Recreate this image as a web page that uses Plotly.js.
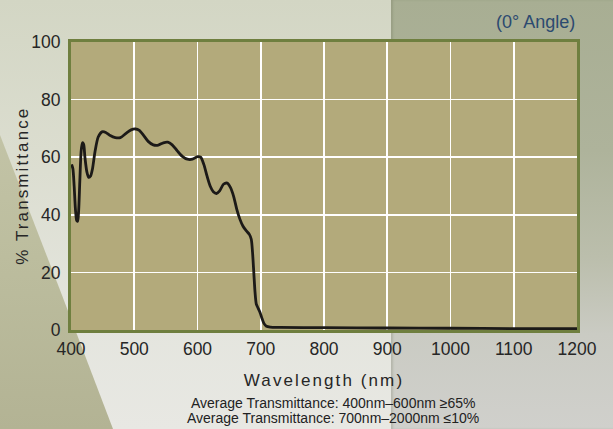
<!DOCTYPE html>
<html>
<head>
<meta charset="utf-8">
<script src="https://cdn.plot.ly/plotly-3.0.1.min.js"></script>
<style>
  html, body { margin: 0; padding: 0; }
  #wrap {
    position: relative; width: 613px; height: 429px; overflow: hidden;
    background: linear-gradient(180deg, #d3d6c4 0%, #dbddcf 35%, #e4e5de 75%, #e8e8e3 100%);
  }
  #wedge {
    position: absolute; left: 0; top: 0; width: 613px; height: 429px;
    clip-path: polygon(0 135px, 60px 290px, 113px 429px, 0 429px);
    background: linear-gradient(180deg, #c9caaf 0%, #bcbd9e 60%, #b3b394 100%);
  }
  #right {
    position: absolute; left: 391px; top: 0; width: 222px; height: 429px;
    background: linear-gradient(180deg, #a8ae93 0%, #aeb39b 35%, #bbbeac 60%, #cacbc3 78%, #d0d0cc 100%);
    box-shadow: inset 2px 0 2px rgba(90,95,70,0.2);
  }
  #chart { position: absolute; left: 0; top: 0; }
  .xtitle { letter-spacing: 2.1px; }
  g.annotation[data-index="0"] text { letter-spacing: 2.1px; }
</style>
</head>
<body>
<div id="wrap">
  <div id="wedge"></div>
  <div id="right"></div>
  <div id="chart"></div>
</div>
<script>
// Transmittance curve, 0° angle of incidence
const wavelength = [401, 403, 405, 407, 409, 410.5, 412, 414, 416, 418, 420, 422, 425, 428, 431, 434, 438, 443, 449, 455,
  462, 470, 478, 487, 495, 502, 508, 515, 522, 530, 538, 546, 553, 560, 568, 576, 584, 592, 600, 605,
  610, 615, 620, 625, 630, 635, 641, 647, 652, 657, 662, 667, 672, 677, 682, 685, 687, 689, 691, 693,
  696, 699, 702, 705, 709, 715, 730, 800, 900, 1000, 1100, 1200];
const transmittance = [57.5, 56, 50, 42, 38, 37.8, 41, 52, 62, 65, 64.5, 60, 55, 53, 53.5, 56, 62, 67, 68.8, 68.6,
  67.5, 66.8, 66.8, 68.3, 69.5, 69.8, 69.3, 67.5, 65.5, 64.3, 64.2, 65, 65.2, 64.3, 62.2, 60.3, 59.3, 59.3, 60.2, 60.0,
  57.5, 53.5, 50, 48, 47.4, 48.3, 50.6, 51, 49.5, 46.5, 42, 38.5, 36, 34.5, 33.2, 31.5, 27, 20, 13, 9,
  7.5, 6, 4, 2.3, 1.3, 1.0, 0.9, 0.8, 0.7, 0.6, 0.5, 0.5];

const xTicks = [400, 500, 600, 700, 800, 900, 1000, 1100, 1200];
const yTicks = [0, 20, 40, 60, 80, 100];
const yTitle = '% Transmittance';
const xTitle = 'Wavelength (nm)';
const noteLines = [
  'Average Transmittance: 400nm–600nm ≥65%',
  'Average Transmittance: 700nm–2000nm ≤10%'
];
const angleLabel = '(0° Angle)';

const sans = '"Liberation Sans", Arial, sans-serif';

const trace = {
  x: wavelength,
  y: transmittance,
  type: 'scatter',
  mode: 'lines',
  line: { color: '#1c1a18', width: 2.8, shape: 'spline', smoothing: 0.7 },
  hoverinfo: 'skip'
};

const layout = {
  width: 613,
  height: 429,
  margin: { l: 71, r: 36, t: 42, b: 99 },
  paper_bgcolor: 'rgba(0,0,0,0)',
  plot_bgcolor: '#b3aa7b',
  showlegend: false,
  xaxis: {
    range: [400, 1200],
    tickvals: xTicks,
    ticktext: xTicks.map(String),
    showgrid: true,
    gridcolor: '#ffffff',
    gridwidth: 1.6,
    zeroline: false,
    showline: true,
    mirror: true,
    linecolor: '#6f7f3f',
    linewidth: 3,
    ticks: '',
    ticklabelstandoff: 1,
    tickfont: { family: sans, size: 17.5, color: '#262626' },
    title: { text: xTitle, font: { family: sans, size: 17, color: '#262626' }, standoff: 17 }
  },
  yaxis: {
    range: [0, 100],
    tickvals: yTicks,
    ticktext: yTicks.map(String),
    showgrid: true,
    gridcolor: '#ffffff',
    gridwidth: 1.6,
    zeroline: false,
    showline: true,
    mirror: true,
    linecolor: '#6f7f3f',
    linewidth: 3,
    ticks: '',
    ticklabelstandoff: 4,
    tickfont: { family: sans, size: 17.5, color: '#262626' }
  },
  annotations: [
    { xref: 'paper', yref: 'paper', x: 0, xshift: -49, y: 0.5, xanchor: 'center', yanchor: 'middle',
      textangle: -90, showarrow: false,
      text: yTitle, font: { family: sans, size: 17, color: '#262626' } },
    { xref: 'paper', yref: 'paper', x: 0.517, y: -0.253, yanchor: 'middle', showarrow: false,
      text: noteLines[0], font: { family: sans, size: 14, color: '#222222' } },
    { xref: 'paper', yref: 'paper', x: 0.517, y: -0.305, yanchor: 'middle', showarrow: false,
      text: noteLines[1], font: { family: sans, size: 14, color: '#222222' } },
    { xref: 'paper', yref: 'paper', x: 1.0, xanchor: 'right', y: 1.07, yanchor: 'middle', showarrow: false,
      text: angleLabel, font: { family: sans, size: 18, color: '#2c4a70' } }
  ]
};

Plotly.newPlot('chart', [trace], layout, { staticPlot: true, displayModeBar: false });
</script>
</body>
</html>
